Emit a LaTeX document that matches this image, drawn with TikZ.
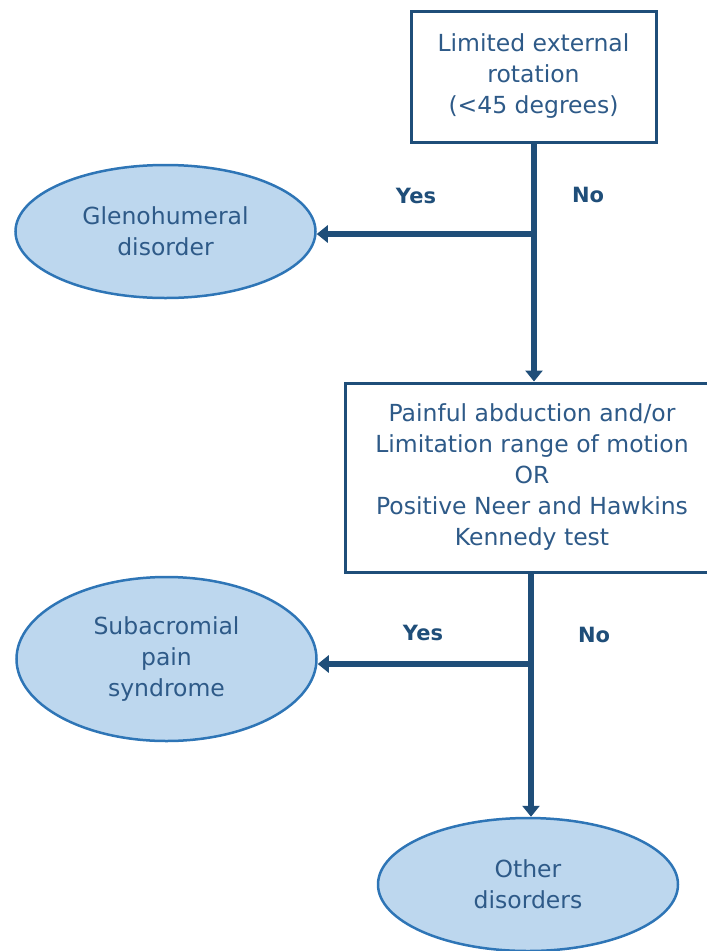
\documentclass[tikz,border=0pt]{standalone}
\usepackage{fontspec}
\setmainfont{DejaVu Sans}
\usetikzlibrary{shapes.geometric,arrows.meta}
\definecolor{lineblue}{HTML}{1F4E79}
\definecolor{textblue}{HTML}{2E5A88}
\definecolor{ellfill}{HTML}{BDD7EE}
\definecolor{ellline}{HTML}{2E75B6}
\tikzset{
  qbox/.style={draw=lineblue, line width=3pt, fill=white, rectangle, inner sep=0pt, align=center,
    text=textblue, font=\fontsize{23.5}{31}\selectfont},
  outcome/.style={ellipse, draw=ellline, line width=2.5pt, fill=ellfill, inner sep=0pt, align=center,
    minimum width=300pt, text=textblue, font=\fontsize{23.5}{31}\selectfont},
  flow/.style={draw=lineblue, line width=6pt},
  flowarrow/.style={flow, -{Triangle[width=17pt,length=11pt]}},
  answer/.style={text=lineblue, font=\fontsize{21}{24}\selectfont\bfseries}
}
\begin{document}
\begin{tikzpicture}[x=1pt,y=-1pt]
\useasboundingbox (0,0) rectangle (707,951);
\node[qbox, minimum width=245pt, minimum height=131pt] (q1) at (533.5,76.5)
  {Limited external\\rotation\\(<45 degrees)};
\node[qbox, minimum width=374pt, minimum height=189pt] (q2) at (532,477.5)
  {Painful abduction and/or\\Limitation range of motion\\OR\\Positive Neer and Hawkins\\Kennedy test};
\node[outcome, minimum height=133pt] (e1) at (165.5,231.5) {Glenohumeral\\disorder};
\node[outcome, minimum height=164pt] (e2) at (166.5,659) {Subacromial\\pain\\syndrome};
\node[outcome, minimum height=133pt] (e3) at (528,884.5) {Other\\disorders};
\coordinate (b1) at (534,234);
\coordinate (b2) at (531,664);
\node[answer] (y1) at (416,196) {Yes};
\node[answer] (n1) at (588,195) {No};
\node[answer] (y2) at (423,633) {Yes};
\node[answer] (n2) at (594,635) {No};
\draw[flowarrow] (q1.south -| b1) -- (q2.north -| b1);
\draw[flowarrow] (b1) -- (b1 -| e1.east);
\draw[flowarrow] (q2.south -| b2) -- (e3.north -| b2);
\draw[flowarrow] (b2) -- (b2 -| e2.east);
\end{tikzpicture}
\end{document}
